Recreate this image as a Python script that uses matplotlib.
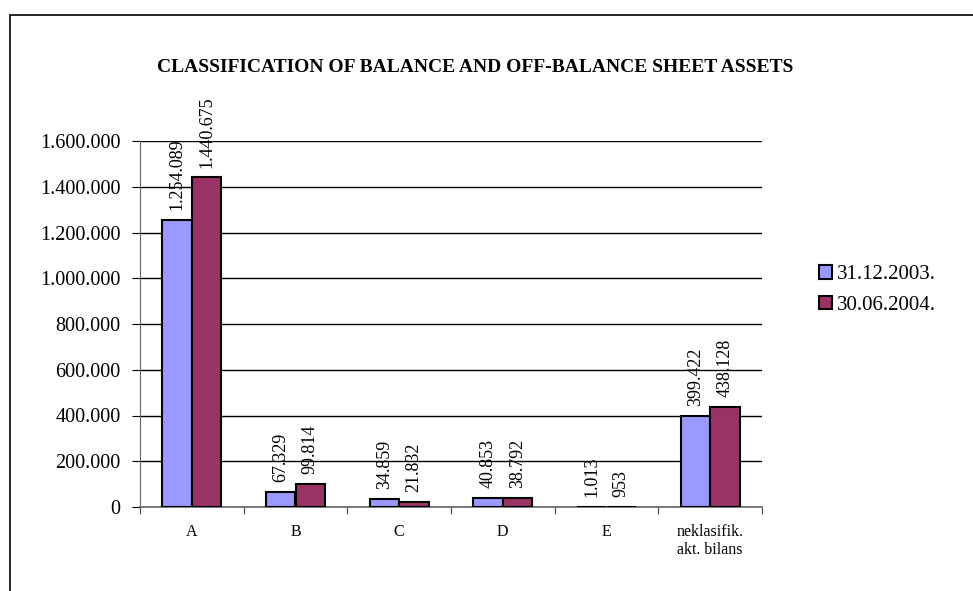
import matplotlib.pyplot as plt
from matplotlib.patches import Rectangle
from matplotlib.ticker import FuncFormatter
import numpy as np

categories = ["A", "B", "C", "D", "E", "neklasifik.\nakt. bilans"]
series_names = ["31.12.2003.", "30.06.2004."]
values_2003 = [1254089, 67329, 34859, 40853, 1013, 399422]
values_2004 = [1440675, 99814, 21832, 38792, 953, 438128]
colors = ["#9999FF", "#993366"]

plt.rcParams['font.family'] = ['Liberation Serif', 'DejaVu Serif']


def dotted(v, pos=None):
    return f"{int(v):,}".replace(",", ".")


fig = plt.figure(figsize=(9.73, 5.91), dpi=100)
# outer chart frame (runs off the right and bottom edges)
fig.patches.append(Rectangle((10 / 973, -0.05), 1.0, 1 - 15 / 591 + 0.05,
                             transform=fig.transFigure, fill=False,
                             edgecolor='black', linewidth=1.2))

ax = fig.add_axes([140 / 973, 1 - 507 / 591, 622 / 973, 366 / 591])

x = np.arange(len(categories))
w = 1 / 3.5  # gap width 150%
for i, (vals, name) in enumerate(zip([values_2003, values_2004], series_names)):
    pos = x + (i - 0.5) * w
    ax.bar(pos, vals, width=w, color=colors[i], edgecolor='black',
           linewidth=1.5, label=name, zorder=3)
    for p, v in zip(pos, vals):
        ax.annotate(dotted(v), (p, v), xytext=(0, 7), textcoords='offset points',
                    rotation=90, ha='center', va='bottom', fontsize=13,
                    annotation_clip=False)

ax.set_xlim(-0.5, len(categories) - 0.5)
ax.set_ylim(0, 1600000)
ax.set_yticks(np.arange(0, 1600001, 200000))
ax.yaxis.set_major_formatter(FuncFormatter(dotted))
ax.grid(axis='y', color='black', linewidth=1.0, zorder=0)

ax.set_xticks(np.arange(len(categories) + 1) - 0.5)
ax.set_xticklabels([])
ax.set_xticks(x, minor=True)
ax.set_xticklabels(categories, minor=True, fontsize=11.5)
ax.tick_params(axis='x', which='minor', length=0, pad=12)
ax.tick_params(axis='x', which='major', length=5, direction='out', color='#444444')
ax.tick_params(axis='y', length=6, direction='out', labelsize=14.5, pad=8)

for side in ['top', 'right']:
    ax.spines[side].set_visible(False)
ax.spines['left'].set_color('#666666')
ax.spines['bottom'].set_color('#666666')
ax.spines['bottom'].set_linewidth(1.2)

fig.text(475 / 973, 1 - 67 / 591,
         "CLASSIFICATION OF BALANCE AND OFF-BALANCE SHEET ASSETS",
         ha='center', va='center', fontsize=14, fontweight='bold')

fig.legend(loc='upper left', bbox_to_anchor=(809 / 973, 1 - 255 / 591),
           frameon=False, fontsize=15, handlelength=0.6, handleheight=0.6,
           handletextpad=0.25, labelspacing=0.55, borderpad=0)

fig.savefig("out.png", dpi=100)
